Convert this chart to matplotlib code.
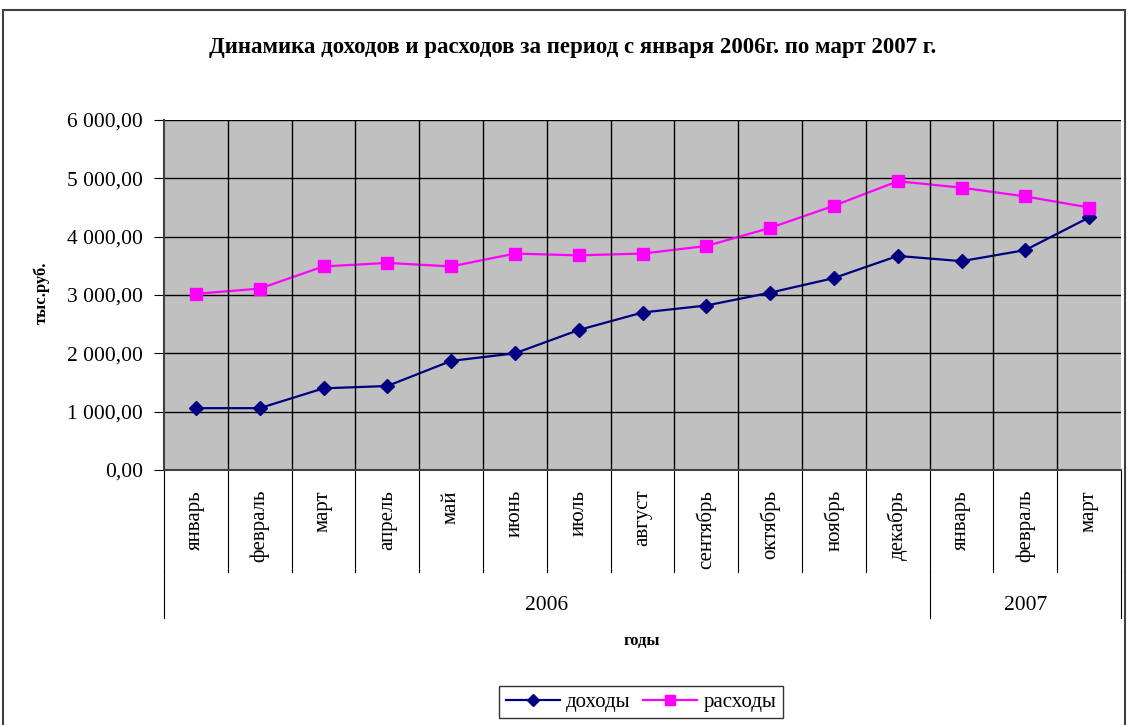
import numpy as np
import matplotlib; matplotlib.use('Agg')
import matplotlib.pyplot as plt
from matplotlib.patches import Rectangle
from matplotlib.ticker import FuncFormatter

plt.rcParams.update({'font.family': ['Liberation Serif', 'DejaVu Serif'], 'font.size': 12})

months = ['январь', 'февраль', 'март', 'апрель', 'май', 'июнь', 'июль', 'август',
          'сентябрь', 'октябрь', 'ноябрь', 'декабрь', 'январь', 'февраль', 'март']
years = ['2006', '2007']
year_counts = [12, 3]
income = [1060, 1060, 1400, 1440, 1870, 2000, 2400, 2700, 2820, 3040, 3290, 3670, 3580, 3770, 4330]
expense = [3020, 3110, 3490, 3550, 3490, 3710, 3680, 3710, 3840, 4150, 4530, 4950, 4840, 4690, 4500]

W, H = 1128, 725
fig = plt.figure(figsize=(W / 100, H / 100), dpi=100)
fig.patch.set_facecolor('white')
# outer chart frame
fig.add_artist(Rectangle((3 / W, -0.05), 1122 / W, (H - 10) / H + 0.05, transform=fig.transFigure,
                         fill=False, ec='#404040', lw=1.5))

ax = fig.add_axes([164 / W, 255 / H, 957 / W, 350 / H])
ax.set_facecolor('#c0c0c0')
x = np.arange(1, len(months) + 1)
ax.plot(x, income, color='#000080', lw=1.6, marker='D', ms=7, label='доходы')
ax.plot(x, expense, color='#ff00ff', lw=1.6, marker='s', ms=8, label='расходы')

ax.set_xlim(0.5, len(months) + 0.5)
ax.set_ylim(0, 6000)
ax.set_yticks(np.arange(0, 6001, 1000))
ax.yaxis.set_major_formatter(FuncFormatter(lambda v, p: f'{v:,.2f}'.replace(',', ' ').replace('.', ',')))
ax.tick_params(axis='y', length=7, labelsize=15.5, pad=8)
ax.grid(axis='y', color='black', lw=1)
ax.set_xticks([])
for b in np.arange(1.5, len(months), 1):
    ax.axvline(b, color='black', lw=1)
for s in ['top', 'right']:
    ax.spines[s].set_visible(False)
ax.spines['left'].set_color('#404040')
ax.spines['bottom'].set_color('#404040')
ax.spines['left'].set_linewidth(1.5)
ax.spines['bottom'].set_linewidth(1.5)

# multi-level category axis
tr = ax.get_xaxis_transform()
row1 = -102 / 350
row2 = -148 / 350
for b in np.arange(0.5, len(months) + 1, 1):
    ax.plot([b, b], [0, row1], transform=tr, color='black', lw=0.8, clip_on=False)
for xi, m in zip(x, months):
    ax.text(xi, -20 / 350, m, transform=tr, rotation=90, ha='center', va='top', fontsize=15)
start = 0.5
edges = [start]
for n in year_counts:
    edges.append(edges[-1] + n)
for e in edges:
    ax.plot([e, e], [row1, row2], transform=tr, color='black', lw=0.8, clip_on=False)
for y, a, b in zip(years, edges[:-1], edges[1:]):
    ax.text((a + b) / 2, -135 / 350, y, transform=tr, ha='center', va='center', fontsize=15.5)

fig.text(642 / W, 1 - 641 / H, 'годы', ha='center', va='center', fontsize=12, fontweight='bold')
fig.text(42 / W, 1 - 293 / H, 'тыс.руб.', ha='center', va='center', rotation=90, fontsize=12, fontweight='bold')
fig.text(573 / W, 1 - 48 / H, 'Динамика доходов и расходов за период с января 2006г. по март 2007 г.',
         ha='center', va='center', fontsize=16.5, fontweight='bold')

leg = fig.legend(loc='center', bbox_to_anchor=(641 / W, 1 - 702 / H), ncol=2, frameon=True,
                 fancybox=False, edgecolor='black', fontsize=15, handlelength=2.6,
                 columnspacing=0.6, handletextpad=0.3, borderpad=0.3, markerscale=0.9)
leg.get_frame().set_linewidth(1)

fig.savefig('out.png', dpi=100, facecolor='white')
